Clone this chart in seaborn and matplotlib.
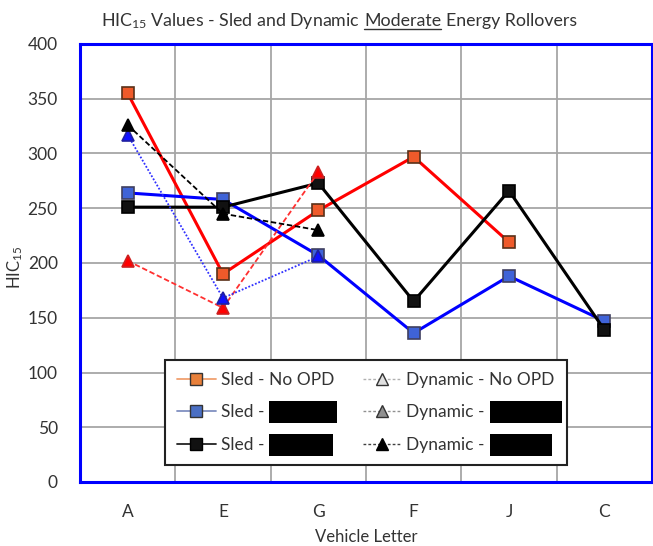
import matplotlib
matplotlib.use("Agg")
import matplotlib.pyplot as plt
import seaborn as sns
import pandas as pd
from matplotlib.lines import Line2D
from matplotlib.patches import Rectangle

# =========================
# DATA
# =========================
vehicles = ["A", "E", "G", "F", "J", "C"]

sled_no_opd = [355, 190, 248, 297, 219]
sled_blue = [264, 258, 207, 136, 188, 147]
sled_black = [251, 251, 273, 165, 266, 139]

dyn_vehicles = ["A", "E", "G"]
dyn_no_opd = [202, 159, 283]
dyn_blue = [317, 168, 206]
dyn_black = [326, 245, 230]

yticks = [0, 50, 100, 150, 200, 250, 300, 350, 400]

labels = [
    "Sled - No OPD",
    "Sled -",
    "Sled -",
    "Dynamic - No OPD",
    "Dynamic -",
    "Dynamic -",
]
# width in px of the blacked-out box after a label (0 = none)
redact_w = [0, 68, 64, 0, 72, 62]

# =========================
# STYLE
# =========================
sns.set_style("white")
plt.rcParams["font.family"] = ["Lato", "DejaVu Sans"]
plt.rcParams["mathtext.fontset"] = "custom"
plt.rcParams["mathtext.rm"] = "Lato"
plt.rcParams["mathtext.it"] = "Lato"

TXT = "#333333"
W, H = 653, 546

fig = plt.figure(figsize=(6.53, 5.46), dpi=100)
ax = fig.add_axes([80 / W, 1 - 482 / H, 572 / W, 438 / H])

# =========================
# SERIES
# =========================
series = [
    (vehicles[:5], sled_no_opd, dict(color="#ff0000", lw=2.2, ls="-", marker="s",
                                     mfc="#ef5a2a", mec="#5a3018")),
    (vehicles, sled_blue, dict(color="#0000ff", lw=2.2, ls="-", marker="s",
                               mfc="#3f63d8", mec="#404060")),
    (vehicles, sled_black, dict(color="#000000", lw=2.2, ls="-", marker="s",
                                mfc="#111111", mec="#000000")),
    (dyn_vehicles, dyn_no_opd, dict(color="#ff3030", lw=1.3, ls=(0, (3, 1.5)), marker="^",
                                    mfc="#ff0000", mec="#cc2020")),
    (dyn_vehicles, dyn_blue, dict(color="#3030ff", lw=1.3, ls=(0, (1, 1)), marker="^",
                                  mfc="#1010ff", mec="#2020a0")),
    (dyn_vehicles, dyn_black, dict(color="#000000", lw=1.3, ls=(0, (3, 1.5)), marker="^",
                                   mfc="#000000", mec="#000000")),
]

for xs, ys, st in series:
    df = pd.DataFrame({"veh": xs, "hic": ys})
    sns.lineplot(data=df, x="veh", y="hic", ax=ax, color=st["color"],
                 linewidth=st["lw"], linestyle=st["ls"], marker=st["marker"],
                 markersize=9, markerfacecolor=st["mfc"], markeredgecolor=st["mec"],
                 markeredgewidth=1.2, zorder=3)

# =========================
# AXES
# =========================
ax.set_xlim(-0.5, len(vehicles) - 0.5)
ax.set_ylim(0, 400)
ax.set_yticks(yticks)
ax.set_xticks(range(len(vehicles)))
ax.set_xticks([i + 0.5 for i in range(len(vehicles) - 1)], minor=True)
ax.grid(False)
ax.yaxis.grid(True, color="#a6a6a6", lw=1.3)
ax.xaxis.grid(True, which="minor", color="#a6a6a6", lw=1.3)
ax.set_axisbelow(True)
ax.tick_params(axis="both", which="both", length=0, labelsize=12.5, colors=TXT)
ax.tick_params(axis="y", pad=16)
ax.tick_params(axis="x", pad=16)
for s in ax.spines.values():
    s.set_color("#0000ff")
    s.set_linewidth(2.2)

ax.set_xlabel("Vehicle Letter", fontsize=12, color=TXT, labelpad=6)
ax.set_ylabel("HIC$_{15}$", fontsize=12, color=TXT)
ax.yaxis.set_label_coords(-0.096, 0.49)

# =========================
# LEGEND
# =========================
handles = [
    Line2D([], [], color="#f0a070", lw=1.3, marker="s", markersize=9, mfc="#e8803a", mec="#333333"),
    Line2D([], [], color="#8090c0", lw=1.3, marker="s", markersize=9, mfc="#4a6fc4", mec="#333333"),
    Line2D([], [], color="#222222", lw=1.3, marker="s", markersize=9, mfc="#111111", mec="#000000"),
    Line2D([], [], color="#b0b0b0", lw=1.0, ls=(0, (2, 1.5)), marker="^", markersize=9,
           mfc="#e0e0e0", mec="#333333"),
    Line2D([], [], color="#909090", lw=1.0, ls=(0, (2, 1.5)), marker="^", markersize=9,
           mfc="#909090", mec="#333333"),
    Line2D([], [], color="#404040", lw=1.0, ls=(0, (2, 1.5)), marker="^", markersize=9,
           mfc="#000000", mec="#000000"),
]
leg = ax.legend(handles, labels, loc="lower left", ncol=2, mode="expand",
                bbox_to_anchor=(0.149, 0.039, 0.702, 0.251), borderaxespad=0,
                fancybox=False, framealpha=1, edgecolor="#222222", fontsize=12.5,
                handlelength=2.2, handletextpad=0.3, labelspacing=0.95,
                borderpad=0.7, columnspacing=1.0)
leg.get_frame().set_linewidth(1.5)
for t in leg.get_texts():
    t.set_color(TXT)
leg.set_zorder(5)

fig.canvas.draw()
renderer = fig.canvas.get_renderer()

# blacked-out label parts
for t, rw in zip(leg.get_texts(), redact_w):
    if rw == 0:
        continue
    bb = t.get_window_extent(renderer)
    cy = (bb.y0 + bb.y1) / 2
    rect = Rectangle(((bb.x1 + 5) / W, (cy - 11) / H), rw / W, 22 / H,
                     transform=fig.transFigure, facecolor="black", edgecolor="none",
                     zorder=10)
    fig.add_artist(rect)

# =========================
# TITLE (underlined word)
# =========================
parts = ["HIC$_{15}$ Values - Sled and Dynamic", "Moderate", "Energy Rollovers"]
tsize = 12.8


def width_px(s):
    t = fig.text(0, 0, s, fontsize=tsize)
    w = t.get_window_extent(renderer).width
    t.remove()
    return w


space = width_px("a b") - width_px("ab")
widths = [width_px(p) for p in parts]
total = sum(widths) + 2 * space
x = 339 - total / 2
ty = 1 - 26 / H
for p, w in zip(parts, widths):
    fig.text(x / W, ty, p, fontsize=tsize, color=TXT, va="baseline")
    if p == "Moderate":
        uy = (ty * H - 3) / H
        fig.add_artist(Line2D([x / W, (x + w) / W], [uy, uy], color=TXT, lw=1.0,
                              transform=fig.transFigure))
    x += w + space

fig.savefig("out.png", dpi=100, facecolor="white")
